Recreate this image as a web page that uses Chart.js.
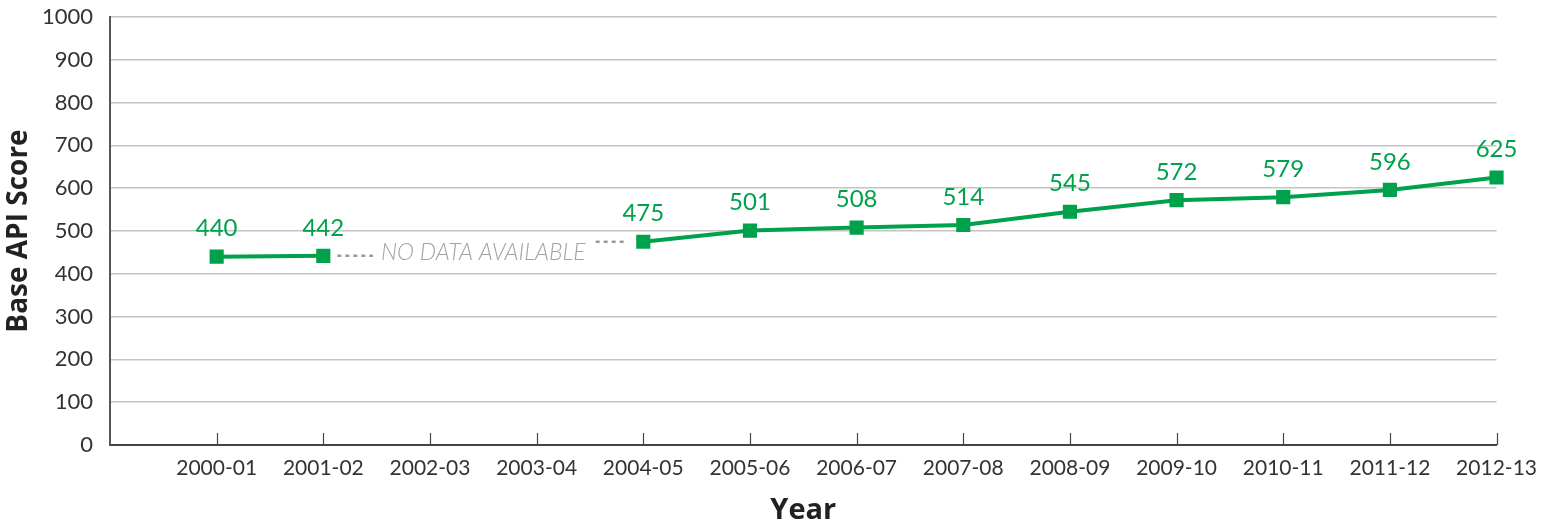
<!DOCTYPE html>
<html>
<head>
<meta charset="utf-8">
<script src="https://cdn.jsdelivr.net/npm/chart.js@4/dist/chart.umd.min.js"></script>
<style>
  html, body { margin: 0; padding: 0; background: #ffffff; }
  #wrap { width: 1548px; height: 525px; position: relative; }
</style>
</head>
<body>
<div id="wrap"><canvas id="chart"></canvas></div>
<script>
// School years on the horizontal axis (a blank slot leads the axis)
const years = ['2000-01', '2001-02', '2002-03', '2003-04', '2004-05', '2005-06',
  '2006-07', '2007-08', '2008-09', '2009-10', '2010-11', '2011-12', '2012-13'];
// Base API score per year; null where no data was collected
const baseApi = [440, 442, null, null, 475, 501, 508, 514, 545, 572, 579, 596, 625];
const yTicks = [0, 100, 200, 300, 400, 500, 600, 700, 800, 900, 1000];
const gapNote = 'NO DATA AVAILABLE';

const labels = [''].concat(years);
const values = [null].concat(baseApi);

const GREEN = '#00a14b';
const FONT = 'Lato, "Open Sans", sans-serif';
const TITLE_FONT = '"Open Sans", Lato, sans-serif';

// Upward tick marks on the year axis
const innerTicks = {
  id: 'innerTicks',
  afterDraw(chart) {
    const x = chart.scales.x, ctx = chart.ctx;
    const bottom = chart.chartArea.bottom;
    ctx.save();
    ctx.strokeStyle = '#444';
    ctx.lineWidth = 1.2;
    for (let i = 1; i < labels.length; i++) {
      const px = Math.round(x.getPixelForValue(i)) + 0.5;
      ctx.beginPath();
      ctx.moveTo(px, bottom);
      ctx.lineTo(px, bottom - 12);
      ctx.stroke();
    }
    ctx.restore();
  }
};

// Value labels above each point
const valueLabels = {
  id: 'valueLabels',
  afterDatasetsDraw(chart) {
    const ctx = chart.ctx;
    const meta = chart.getDatasetMeta(0);
    ctx.save();
    ctx.fillStyle = GREEN;
    ctx.font = '24px ' + FONT;
    ctx.textAlign = 'center';
    ctx.textBaseline = 'middle';
    meta.data.forEach((pt, i) => {
      const v = values[i];
      if (v === null || v === undefined) return;
      ctx.fillText(String(v), pt.x, pt.y - 28);
    });
    ctx.restore();
  }
};

// Note and dashed connectors across the missing years
const gapMarker = {
  id: 'gapMarker',
  afterDatasetsDraw(chart) {
    const ctx = chart.ctx;
    const xs = chart.scales.x, ys = chart.scales.y;
    // find the gap bounded by data on both sides
    let a = -1, b = -1;
    for (let i = 1; i < values.length; i++) {
      if (values[i] === null && values[i - 1] !== null && a < 0) a = i - 1;
      if (values[i] !== null && values[i - 1] === null && a >= 0 && i - 1 > a) { b = i; break; }
    }
    if (a < 0 || b < 0) return;
    const xa = xs.getPixelForValue(a), xb = xs.getPixelForValue(b);
    const ya = ys.getPixelForValue(values[a]), yb = ys.getPixelForValue(values[b]);
    const cx = (xa + xb) / 2;
    ctx.save();
    ctx.font = 'italic 300 23px ' + FONT;
    const w = ctx.measureText(gapNote).width;
    ctx.fillStyle = '#a3a3a3';
    ctx.textAlign = 'center';
    ctx.textBaseline = 'middle';
    ctx.fillText(gapNote, cx, ya - 3);
    ctx.strokeStyle = '#9a9a9a';
    ctx.lineWidth = 2.5;
    ctx.setLineDash([4, 4]);
    ctx.beginPath();
    ctx.moveTo(xa + 14, ya);
    ctx.lineTo(cx - w / 2 - 8, ya);
    ctx.moveTo(cx + w / 2 + 10, yb);
    ctx.lineTo(xb - 18, yb);
    ctx.stroke();
    ctx.restore();
  }
};

new Chart(document.getElementById('chart'), {
  type: 'line',
  data: {
    labels: labels,
    datasets: [{
      data: values,
      borderColor: GREEN,
      backgroundColor: GREEN,
      borderWidth: 4,
      pointStyle: 'rect',
      pointRadius: 10,
      pointHoverRadius: 10,
      pointBorderWidth: 0,
      pointBackgroundColor: GREEN,
      spanGaps: false,
      tension: 0
    }]
  },
  options: {
    responsive: true,
    maintainAspectRatio: false,
    animation: false,
    events: [],
    layout: { padding: { top: 17, right: 50, bottom: 0, left: 0 } },
    plugins: {
      legend: { display: false },
      tooltip: { enabled: false }
    },
    scales: {
      x: {
        type: 'category',
        offset: false,
        grid: { display: false, drawTicks: false },
        border: { display: true, color: '#444', width: 2 },
        ticks: {
          autoSkip: false,
          maxRotation: 0,
          padding: 11,
          color: '#333',
          font: { family: FONT, size: 21 }
        },
        title: {
          display: true,
          text: 'Year',
          color: '#222',
          padding: { top: 0, bottom: 0 },
          font: { family: TITLE_FONT, size: 29, weight: 'bold', lineHeight: 1.0 }
        },
        afterFit(scale) { scale.height = 80; }
      },
      y: {
        min: 0,
        max: 1000,
        afterBuildTicks(scale) { scale.ticks = yTicks.map(v => ({ value: v })); },
        grid: { color: '#c4c4c4', lineWidth: 1.5, drawTicks: false },
        border: { display: true, color: '#555', width: 2 },
        ticks: {
          padding: 17,
          color: '#333',
          font: { family: FONT, size: 22 },
          callback: (v) => String(v)
        },
        title: {
          display: true,
          text: 'Base API Score',
          color: '#222',
          padding: { top: 2, bottom: 0 },
          font: { family: TITLE_FONT, size: 28, weight: 'bold' }
        },
        afterFit(scale) {
          scale.width = 110;
          scale.paddingTop = 0;
          scale.paddingBottom = 0;
        }
      }
    }
  },
  plugins: [innerTicks, valueLabels, gapMarker]
});
</script>
</body>
</html>
